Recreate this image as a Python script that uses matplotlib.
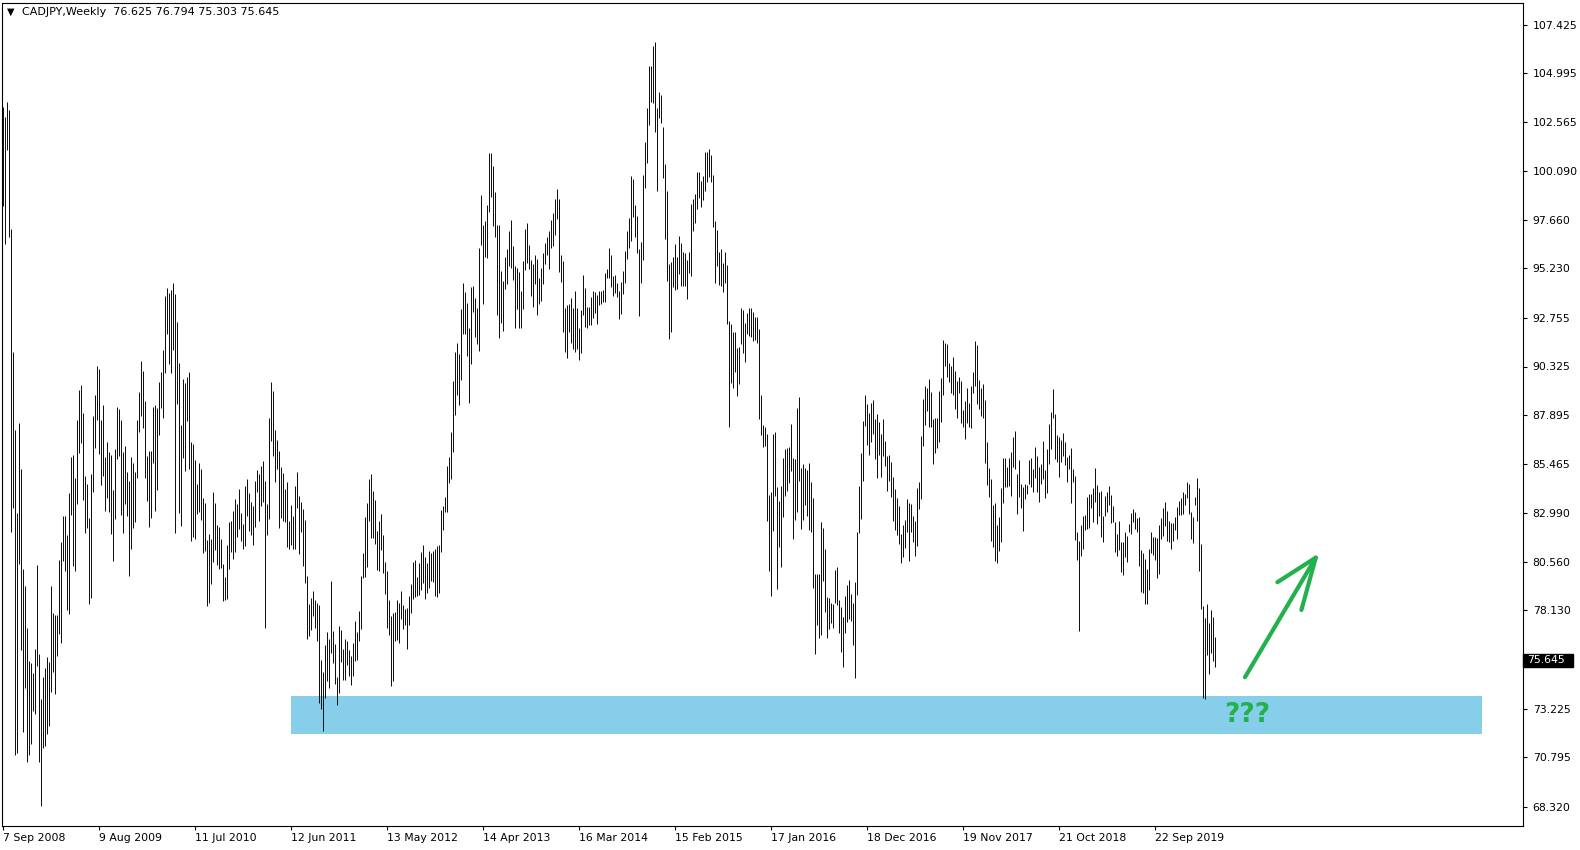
import numpy as np
import matplotlib
matplotlib.use('Agg')
import matplotlib.pyplot as plt
import matplotlib.patches as patches
import matplotlib.transforms as mtransforms

# weekly bars of CADJPY, first bar = week of 7 Sep 2008 (index 0)
high = [
	103.30, 102.79, 103.53, 103.14, 97.20, 91.03, 87.14, 83.00, 87.49, 85.19,
	80.21, 79.34, 77.25, 75.60, 75.50, 75.02, 76.20, 80.39, 75.97, 73.69,
	74.81, 75.27, 75.78, 75.55, 79.34, 77.99, 77.88, 77.88, 80.67, 81.56,
	82.84, 82.84, 81.88, 84.00, 85.79, 85.91, 84.75, 87.66, 89.17, 89.40,
	88.00, 84.84, 84.44, 82.77, 84.96, 87.84, 88.89, 90.36, 90.22, 87.66,
	88.40, 85.79, 86.56, 86.03, 85.89, 84.16, 86.19, 88.31, 88.22, 87.66,
	86.03, 86.35, 85.05, 84.58, 85.79, 85.51, 85.05, 87.66, 89.05, 90.59,
	90.08, 88.61, 85.84, 86.10, 86.10, 88.31, 88.42, 88.24, 89.56, 90.05,
	91.15, 93.83, 94.27, 93.99, 94.13, 94.48, 93.94, 92.54, 90.52, 87.38,
	89.70, 89.52, 89.82, 90.05, 86.56, 86.45, 85.63, 84.44, 85.49,
	85.18, 83.73, 83.50, 81.65, 81.95, 81.70, 84.05, 83.50, 82.40, 82.30,
	81.70, 80.45, 79.80, 81.40, 82.55, 82.62, 83.10, 83.70, 83.45, 84.20,
	83.00, 82.45, 84.35, 84.70, 84.00, 83.55, 83.35, 84.60, 85.15, 84.95,
	85.35, 85.60, 84.60, 83.45, 87.75, 89.55, 89.10, 87.15, 86.65, 86.10,
	85.30, 85.00, 84.20, 84.55, 82.60, 83.40, 82.85, 84.35, 85.05, 83.85,
	83.55, 83.20, 82.65, 79.85, 78.45, 78.75, 79.10, 78.65, 78.50, 78.40,
	75.65, 75.05, 76.40, 77.05, 76.70, 79.60, 77.10, 76.45, 74.80, 77.35,
	77.15, 76.20, 76.70, 76.60, 76.15, 75.85, 76.50, 77.60, 77.05, 78.10,
	79.85, 81.00, 82.80, 83.50, 84.70, 84.95, 84.10, 83.65, 82.10, 82.60,
	82.95, 81.90, 80.55, 80.10, 78.65,
	77.85, 78.01, 78.07, 78.65, 78.52, 79.10, 78.38, 78.21, 78.25, 78.83,
	79.47, 80.56, 80.67, 79.79, 80.52, 81.07, 81.39, 80.79, 80.49, 81.10,
	81.01, 81.10, 81.19, 81.34, 81.38, 83.16, 83.34, 83.79, 85.37, 85.79,
	87.06, 89.61, 91.03, 91.52, 90.97, 93.21, 94.48, 94.03, 93.52, 92.24,
	94.30, 94.37, 93.77, 93.24, 96.24, 98.88, 97.39, 97.61, 98.42, 101.02,
	101.02, 100.33, 99.06, 97.42, 97.42, 95.10, 94.61, 95.79, 96.19, 97.10,
	97.64, 96.37, 95.33, 95.24, 95.03, 94.10, 95.61, 97.19, 97.50, 96.42,
	95.64, 95.43, 95.88, 95.70, 94.75, 95.24, 96.01, 96.48, 96.82, 97.10,
	97.64, 98.01, 98.70, 99.21, 98.70, 95.88, 95.61, 93.24, 93.39, 93.43,
	93.75, 93.24, 94.10, 93.24, 92.24,
	93.15, 94.90, 94.27, 93.32, 93.32, 93.82, 94.10, 94.07, 93.90, 94.10,
	94.10, 94.15, 95.02, 95.20, 96.23, 95.90, 94.85, 94.90, 94.52, 94.10,
	94.57, 95.10, 96.10, 97.10, 97.73, 99.85, 99.70, 98.40, 97.85, 96.20,
	96.55, 99.90, 101.55, 103.23, 105.35, 105.35, 106.35, 106.53, 103.27, 104.07,
	103.90, 102.28, 100.45, 99.10, 95.45, 95.57, 95.82, 96.43, 95.82, 96.85,
	96.48, 96.07, 95.98, 95.65, 96.07, 98.43, 98.70, 98.93, 100.03, 100.07,
	99.62, 99.87, 101.03, 101.03, 101.20, 100.90, 99.90, 97.60, 97.15, 96.07,
	96.20, 95.52, 96.05, 95.40, 92.60, 92.43, 92.07, 92.07, 91.23, 91.32,
	93.27, 93.15, 92.48, 92.98, 93.27, 93.23, 93.07, 92.82, 92.78, 92.20,
	88.90,
	87.40, 87.28, 86.93, 83.90, 84.03, 86.95, 87.05, 84.32, 83.60, 84.35,
	85.75, 86.22, 86.23, 86.30, 87.45, 85.77, 85.70, 88.25, 88.78, 85.25,
	85.45, 85.23, 85.15, 85.48, 84.53, 83.75, 79.95, 79.95, 79.95, 82.53,
	82.25, 81.20, 78.78, 78.75, 78.48, 78.43, 80.15, 80.30, 78.65, 78.28,
	77.82, 78.87, 79.40, 79.65, 78.93, 78.50, 79.55, 82.05, 84.37, 86.02,
	87.62, 88.90, 88.47, 87.98, 88.52, 88.65, 87.72, 87.95, 87.53, 86.95,
	87.70, 86.60, 85.85, 85.90, 85.55, 84.80, 84.20, 83.73, 83.37, 81.97,
	82.40, 82.65, 83.70, 83.52, 83.47, 82.87, 82.62, 84.25, 84.55, 86.87,
	88.70, 89.37, 89.25, 89.68, 89.03, 87.70, 87.77, 87.77, 89.12, 89.77,
	91.65, 91.52, 91.45, 90.52, 90.37, 90.82, 90.12, 89.62, 89.82,
	89.60, 88.15, 88.60, 89.25, 88.52, 89.35, 90.05, 91.60, 91.40, 89.65,
	89.27, 89.45, 88.65, 86.55, 85.25, 84.70, 83.40, 83.48, 82.40, 82.78,
	84.25, 85.75, 85.75, 85.30, 85.75, 86.05, 86.78, 87.10, 84.97, 85.65,
	84.43, 84.32, 84.45, 84.38, 85.65, 85.77, 85.20, 86.30, 85.85, 85.32,
	85.45, 86.62, 85.15, 86.22, 87.45, 88.07, 89.20, 87.95, 86.92, 86.82,
	86.67, 87.02, 86.53, 85.80, 85.90, 86.25, 85.20, 84.87, 82.05, 81.58,
	82.42, 82.87, 82.90, 83.82, 83.95, 83.95, 84.25, 85.27, 84.38, 84.07,
	84.08, 82.87, 83.85, 84.03, 84.35, 83.90, 83.37, 82.55, 81.95, 82.60,
	81.57, 81.55, 82.05, 81.85, 82.45, 83.02, 83.18, 83.05, 82.73, 82.82,
	81.15, 81.02, 80.68, 80.20, 81.20,
	82.05, 81.78, 81.78, 81.75, 82.40, 82.77, 83.25, 83.53, 83.10, 82.60,
	82.50, 82.50, 82.82, 83.32, 83.60, 83.75, 84.07, 83.93, 84.53, 84.43,
	83.03, 82.78, 83.82, 84.75, 84.25, 81.45, 78.37, 77.75, 78.43, 77.52,
	78.15, 77.82, 76.79,
]

low = [
	98.36, 96.46, 101.16, 96.78, 82.07, 83.23, 70.89, 71.01, 80.44, 76.13,
	72.06, 74.27, 70.54, 70.89, 71.43, 73.11, 72.94, 75.36, 70.54, 68.33,
	71.24, 71.36, 71.94, 72.34, 74.04, 75.04, 73.97, 75.83, 76.95, 76.48,
	80.60, 80.09, 78.16, 77.95, 82.88, 80.37, 80.09, 83.47, 85.98, 86.49,
	83.63, 82.02, 82.23, 78.46, 78.74, 84.05, 86.23, 87.66, 85.96, 84.40,
	84.86, 83.12, 83.77, 83.05, 81.95, 80.60, 82.70, 85.68, 85.84, 82.88,
	82.02, 83.47, 82.84, 79.86, 81.18, 82.25, 82.53, 84.75, 87.03, 87.84,
	87.26, 84.75, 83.58, 82.30, 82.77, 85.51, 83.12, 84.16, 86.91, 88.24,
	87.73, 89.98, 91.96, 90.45, 89.98, 91.15, 82.00, 88.47, 83.00, 82.37,
	85.75, 85.09, 87.61, 85.21, 81.60, 81.79, 81.72, 82.95, 83.05,
	82.65, 81.02, 81.10, 78.37, 78.52, 79.43, 80.57, 81.15, 80.40, 80.18,
	80.27, 78.62, 78.65, 78.70, 80.18, 81.07, 80.68, 81.07, 81.78, 82.20,
	81.62, 81.18, 81.37, 82.85, 82.12, 81.90, 81.40, 82.32, 84.07, 82.62,
	83.37, 83.57, 77.27, 81.90, 82.72, 86.62, 85.85, 84.57, 85.20, 82.27,
	82.77, 82.62, 82.57, 81.32, 81.18, 81.40, 81.22, 81.22, 83.27, 80.97,
	82.07, 80.37, 79.52, 76.72, 76.87, 77.13, 77.87, 77.27, 76.62, 73.52,
	73.22, 72.10, 73.77, 74.62, 74.27, 76.02, 75.52, 74.47, 73.42, 74.02,
	75.57, 74.67, 74.67, 75.42, 74.87, 74.42, 74.87, 75.62, 75.67, 76.62,
	77.22, 79.77, 79.82, 80.32, 82.62, 81.77, 81.77, 81.47, 80.15, 80.12,
	81.17, 80.02, 78.97, 77.27, 76.92,
	74.34, 74.61, 76.61, 76.65, 76.52, 77.70, 77.21, 77.40, 76.20, 77.40,
	77.98, 78.70, 78.79, 78.85, 78.89, 79.16, 79.50, 78.70, 78.98, 79.25,
	79.58, 79.56, 78.85, 78.79, 78.98, 81.07, 82.16, 83.07, 83.07, 84.48,
	84.70, 86.07, 87.92, 88.92, 88.39, 89.65, 91.97, 91.97, 90.83, 88.48,
	90.43, 93.03, 91.79, 91.43, 91.12, 96.42, 93.43, 95.79, 95.75, 98.06,
	98.79, 97.33, 96.82, 92.92, 91.75, 92.48, 92.12, 94.21, 94.43, 95.33,
	95.24, 94.66, 92.24, 93.21, 92.24, 92.24, 93.21, 95.15, 95.48, 95.19,
	93.86, 93.30, 94.43, 92.88, 93.43, 93.61, 94.43, 95.43, 95.88, 95.19,
	96.24, 96.37, 96.88, 97.70, 95.06, 94.55, 92.03, 91.06, 90.77, 92.06,
	91.52, 91.21, 91.06, 91.19, 90.65,
	90.98, 92.90, 92.32, 92.27, 92.40, 92.40, 92.73, 93.02, 92.45, 93.38,
	93.45, 93.57, 93.57, 94.77, 94.73, 94.28, 93.87, 94.02, 93.82, 92.72,
	92.97, 93.93, 94.52, 95.72, 96.27, 96.62, 97.82, 96.78, 95.98, 92.87,
	94.48, 95.65, 99.27, 100.52, 102.40, 103.57, 103.48, 102.07, 99.12, 102.77,
	102.48, 99.77, 96.68, 94.62, 91.72, 92.07, 94.32, 94.15, 94.20, 94.93,
	94.37, 94.35, 94.37, 93.72, 95.02, 94.85, 97.12, 97.52, 98.18, 98.77,
	98.32, 98.65, 99.12, 99.57, 99.82, 99.57, 97.32, 94.52, 95.35, 94.40,
	94.35, 94.07, 94.48, 92.43, 87.32, 89.52, 89.27, 90.07, 88.87, 89.43,
	91.45, 91.02, 90.57, 91.95, 91.87, 91.82, 91.60, 91.65, 91.52, 87.72,
	86.90,
	86.32, 86.37, 82.62, 80.12, 78.87, 82.12, 83.87, 79.22, 81.32, 80.32,
	82.78, 83.87, 84.12, 84.52, 85.12, 81.68, 82.65, 83.05, 84.62, 82.22,
	82.65, 83.40, 82.87, 82.15, 82.05, 79.27, 75.97, 77.42, 76.73, 76.92,
	79.60, 78.07, 76.73, 77.18, 77.48, 77.27, 78.52, 78.40, 76.98, 76.07,
	75.32, 77.02, 77.53, 77.72, 77.62, 76.42, 74.77, 78.88, 81.98, 82.68,
	84.58, 87.35, 86.40, 85.90, 86.57, 86.95, 85.68, 84.77, 85.90, 84.82,
	85.87, 85.37, 84.12, 84.60, 83.78, 82.62, 82.15, 81.90, 81.43, 80.52,
	80.82, 81.23, 82.07, 80.62, 82.07, 81.57, 80.85, 81.37, 83.18, 83.68,
	86.35, 87.38, 88.12, 87.32, 87.32, 85.43, 85.98, 86.27, 86.53, 87.53,
	88.90, 90.37, 89.82, 89.57, 89.02, 88.90, 88.18, 87.77, 88.98,
	87.48, 87.32, 86.72, 87.48, 87.32, 87.27, 88.98, 89.37, 88.45, 88.22,
	87.85, 87.77, 85.52, 84.40, 83.82, 81.62, 81.32, 80.62, 80.48, 81.12,
	81.57, 83.52, 84.32, 84.32, 84.35, 83.87, 85.32, 85.18, 82.97, 83.82,
	83.23, 82.12, 83.72, 83.95, 84.47, 84.28, 84.07, 84.73, 84.07, 83.57,
	84.45, 84.68, 83.73, 84.02, 85.43, 86.18, 87.73, 85.68, 85.53, 84.82,
	85.53, 85.87, 85.42, 84.57, 85.18, 83.52, 84.53, 81.65, 80.63, 77.12,
	80.83, 81.22, 82.15, 82.22, 82.23, 83.23, 82.57, 83.57, 82.45, 82.87,
	81.78, 81.57, 82.87, 83.07, 83.40, 82.52, 82.53, 81.07, 80.87, 81.15,
	80.03, 79.92, 80.82, 80.53, 82.03, 81.97, 82.57, 82.18, 82.07, 80.37,
	79.07, 78.98, 78.43, 78.43, 79.15,
	81.02, 80.88, 80.65, 79.77, 79.95, 81.68, 81.83, 82.37, 81.60, 81.53,
	81.22, 81.60, 82.15, 81.70, 82.90, 82.88, 82.95, 83.38, 83.77, 82.97,
	81.72, 81.48, 83.40, 82.62, 80.08, 78.18, 73.77, 73.72, 75.90, 74.93,
	75.98, 75.62, 75.30,
]

# x axis labels, one every 48 weeks
date_labels = ['7 Sep 2008', '9 Aug 2009', '11 Jul 2010', '12 Jun 2011', '13 May 2012',
	'14 Apr 2013', '16 Mar 2014', '15 Feb 2015', '17 Jan 2016', '18 Dec 2016',
	'19 Nov 2017', '21 Oct 2018', '22 Sep 2019']
label_step = 48

price_ticks = [107.425, 104.995, 102.565, 100.090, 97.660, 95.230, 92.755, 90.325,
	87.895, 85.465, 82.990, 80.560, 78.130, 73.225, 70.795, 68.320]

last_ohlc = [76.625, 76.794, 75.303, 75.645]

# support zone (price band) and annotation arrow (week index, price)
zone_weeks = [144, 739.5]
zone_prices = [71.97, 73.85]
arrow_shaft = [[621, 656.4], [74.79, 80.77]]
arrow_head = [[637.2, 656.4, 649.2], [79.54, 80.77, 78.15]]
question_pos = [622, 72.9]

green = '#22b14c'
font_small = 7.8

n = min(len(high), len(low))
weeks = np.arange(n)

fig = plt.figure(figsize=(15.8, 8.5), dpi=100)
fig.patch.set_facecolor('white')
ax = fig.add_axes([2/1580., 1-826/850., 1521/1580., 823/850.])

ax.fill_between(zone_weeks, zone_prices[0], zone_prices[1], color='#87ceeb', lw=0, zorder=1)
ax.vlines(weeks, np.array(low[:n]), np.array(high[:n]), color='#111111', lw=0.72, zorder=2)

ax.plot(arrow_shaft[0], arrow_shaft[1], color=green, lw=3.0, solid_capstyle='round', zorder=3)
ax.plot(arrow_head[0], arrow_head[1], color=green, lw=3.0, solid_capstyle='round',
	solid_joinstyle='round', zorder=3)
ax.text(question_pos[0], question_pos[1], '???', color=green, fontsize=19, fontweight='bold',
	ha='center', va='center', zorder=4)

ax.set_xlim(-0.5, 760)
ax.set_ylim(67.35, 108.5)

# x ticks
ax.set_xticks([label_step*k for k in range(len(date_labels))])
ax.set_xticklabels(date_labels, fontsize=font_small)
for lab in ax.get_xticklabels():
	lab.set_horizontalalignment('left')
ax.tick_params(axis='x', direction='out', length=3, width=0.8, pad=2, colors='black')

# y ticks on the right
ax.yaxis.tick_right()
ax.set_yticks(price_ticks)
ax.set_yticklabels(['%.3f' % p for p in price_ticks], fontsize=font_small)
ax.tick_params(axis='y', direction='out', length=3, width=0.8, pad=4, colors='black')

for s in ax.spines.values():
	s.set_color('black')
	s.set_linewidth(0.8)

# current price marker on the right axis
trans = mtransforms.blended_transform_factory(ax.transAxes, ax.transData)
ax.add_patch(patches.Rectangle((1.0, last_ohlc[3] - 0.32), 50/1521., 0.64,
	transform=trans, facecolor='black', edgecolor='black', clip_on=False, zorder=5))
ax.text(1.0 + 4/1521., last_ohlc[3], '%.3f' % last_ohlc[3], transform=trans,
	ha='left', va='center', fontsize=font_small, color='white', clip_on=False, zorder=6)

# header
fig.text(7/1580., 1-12/850., u'\u25bc', fontsize=7, va='center', ha='left', color='black')
fig.text(22/1580., 1-12/850., 'CADJPY,Weekly  ' + ' '.join('%.3f' % v for v in last_ohlc),
	fontsize=8, va='center', ha='left', color='black')

fig.savefig('out.png', dpi=100, facecolor='white')
